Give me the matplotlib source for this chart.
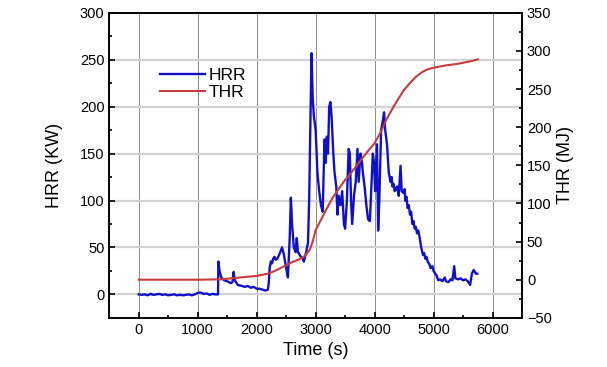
import numpy as np
import matplotlib
matplotlib.use("Agg")
import matplotlib.pyplot as plt
from matplotlib.ticker import MultipleLocator

plt.rcParams['font.family'] = ['Liberation Sans', 'DejaVu Sans']

# ── Data ───────────────────────────────────────────────────────────────────────
hrr_time = [0, 50, 100, 150, 200, 250, 300, 350, 400, 450, 500, 550, 600, 650,
            700, 750, 800, 850, 900, 950, 1000, 1050, 1100, 1150, 1200, 1250,
            1300, 1345, 1350, 1370, 1400, 1450, 1500, 1560, 1590, 1610, 1630,
            1680, 1750, 1800, 1850, 1900, 1950, 2000, 2050, 2100, 2150, 2190,
            2205, 2220, 2240, 2260, 2280, 2300, 2320, 2350, 2380, 2400, 2430,
            2460, 2500, 2530, 2560, 2580, 2600, 2630, 2660, 2680, 2700, 2730,
            2750, 2780, 2800, 2840, 2870, 2890, 2910, 2930, 2950, 2970, 3000,
            3030, 3060, 3090, 3120, 3150, 3170, 3190, 3210, 3230, 3250, 3270,
            3300, 3320, 3350, 3370, 3390, 3420, 3450, 3480, 3500, 3530, 3560,
            3580, 3600, 3620, 3650, 3680, 3710, 3730, 3760, 3780, 3800, 3830,
            3860, 3890, 3920, 3950, 3970, 3990, 4010, 4040, 4060, 4080, 4110,
            4140, 4160, 4180, 4210, 4240, 4270, 4290, 4300, 4320, 4340, 4360,
            4380, 4410, 4440, 4460, 4490, 4510, 4520, 4540, 4560, 4580, 4600,
            4620, 4640, 4660, 4680, 4700, 4720, 4740, 4760, 4790, 4820, 4840,
            4860, 4880, 4900, 4930, 4950, 4980, 5000, 5030, 5050, 5080, 5110,
            5150, 5190, 5210, 5250, 5290, 5320, 5350, 5370, 5420, 5460, 5500,
            5540, 5580, 5620, 5650, 5680, 5720, 5740]
hrr = [0, -0.5, 0, -1, 0.5, -0.5, 0, 0.5, -0.5, 0, -1, -0.5, 0, -1,
       -0.5, -1, -0.5, 0, -1, 0, 1.5, 2, 0.5, 1, -0.5, 0.5,
       0, 0, 35, 25, 18, 15, 14, 12, 13, 24, 15,
       10, 9, 8, 9, 7, 8, 6, 6, 5, 4, 5,
       12, 28, 35, 33, 38, 40, 37, 38, 42, 45, 50,
       43, 28, 18, 60, 103, 75, 50, 45, 60, 45, 42,
       40, 38, 35, 45, 55, 100, 180, 257, 210, 190, 175,
       130, 110, 95, 88, 165, 140, 168, 150, 200, 205, 190,
       150, 130, 115, 85, 105, 95, 110, 75, 70, 100, 155,
       150, 100, 75, 105, 120, 155, 120, 150, 145, 130, 115,
       95, 80, 78, 120, 150, 140, 110, 160, 68, 100, 175,
       185, 194, 175, 160, 130, 120, 125, 115, 118, 110, 112,
       115, 105, 137, 110, 108, 112, 100, 104, 92, 95, 85,
       88, 75, 78, 70, 72, 65, 68, 62, 50, 42, 44,
       38, 40, 35, 32, 28, 30, 25, 22, 20, 15, 16,
       14, 18, 14, 13, 16, 15, 30, 17, 16, 17, 15,
       16, 14, 10, 22, 26, 22, 22]

thr_time = [0, 500, 1000, 1400, 1600, 1800, 2000, 2200, 2350, 2500, 2600,
            2700, 2800, 2900, 2950, 3000, 3100, 3200, 3300, 3400, 3500,
            3600, 3700, 3800, 3900, 4000, 4100, 4200, 4300, 4400, 4500,
            4600, 4700, 4800, 4900, 5000, 5200, 5400, 5600, 5750]
thr = [0, 0, 0, 0.5, 2, 3.5, 5, 8, 13, 19, 23,
       26, 30, 39, 50, 65, 80, 95, 109, 120, 131,
       140, 150, 160, 170, 179, 193, 210, 224, 237, 249,
       258, 266, 272, 276, 278, 281, 283, 286, 289]

fig, ax = plt.subplots(figsize=(6.07, 3.67), dpi=100)
fig.subplots_adjust(left=0.18, right=0.86, bottom=0.134, top=0.965)
ax2 = ax.twinx()

l1, = ax.plot(hrr_time, hrr, color="#1010c8", lw=1.7, label="HRR")
l2, = ax2.plot(thr_time, thr, color="#c83c3c", lw=1.5, label="THR")

ax.set_xlim(-500, 6500)
ax.set_ylim(-25, 300)
ax2.set_ylim(-50, 350)
ax.set_xticks(np.arange(0, 6001, 1000))
ax.set_yticks(np.arange(0, 301, 50))
ax2.set_yticks(np.arange(-50, 351, 50))
ax.xaxis.set_minor_locator(MultipleLocator(500))
ax.yaxis.set_minor_locator(MultipleLocator(25))
ax2.yaxis.set_minor_locator(MultipleLocator(25))

for a in (ax, ax2):
    a.tick_params(which="both", direction="in", labelsize=10.5, width=1.2)
    a.tick_params(which="major", length=4)
    a.tick_params(which="minor", length=2.5)
    for s in a.spines.values():
        s.set_linewidth(1.2)

# grid: vertical lines dark thin, horizontal light thick
ax.grid(axis="x", color="#8c8c8c", lw=0.7)
ax.grid(axis="y", color="#d2d2d2", lw=1.6)
ax.set_axisbelow(True)

ax.set_xlabel("Time (s)", fontsize=13, labelpad=4)
ax.set_ylabel("HRR (KW)", fontsize=13, labelpad=12)
ax2.set_ylabel("THR (MJ)", fontsize=13, labelpad=4)

ax.legend([l1, l2], ["HRR", "THR"], loc="upper left",
          bbox_to_anchor=(0.085, 0.87), frameon=False, fontsize=12.5,
          handlelength=2.6, handletextpad=0.2, labelspacing=0.1)

fig.savefig("out.png", dpi=100)
